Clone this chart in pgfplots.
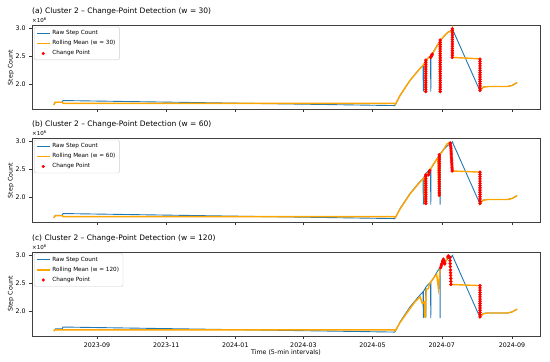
\documentclass[border=0pt]{standalone}
\usepackage{fontspec}
\setmainfont{DejaVu Sans}
\usepackage{pgfplots}
\usepackage{pgfplotstable}
\pgfplotsset{compat=1.18}
\definecolor{rawblue}{HTML}{1F77B4}
\definecolor{rmorange}{HTML}{FFA500}

\pgfplotstableread{
d v
-38 1.64
-36.5 1.68
-30.5 1.68
-30 1.71
262.5 1.62
263 1.63
267.2 1.80
276 2.07
283.4 2.25
287.5 2.34
287.7 1.87
287.9 2.35
289.7 2.41
289.9 1.87
290.1 2.43
294.1 2.51
294.3 1.87
294.5 2.52
296 2.56
300 2.70
302.3 2.77
302.5 1.87
302.7 2.78
306 2.86
309.5 2.93
312.5 2.96
313.3 2.99
337.7 1.88
340.5 1.95
343 1.96
362 1.96
366 1.98
370.4 2.03
}\rawdata

\pgfplotstableread{
d v
-38 1.63
-37 1.68
-30.5 1.68
-30 1.66
262 1.66
263 1.64
267.2 1.80
276 2.07
283.4 2.25
287.5 2.34
289.4 2.40
289.6 1.87
290.2 1.87
290.4 2.44
292 2.47
294 2.50
296 2.55
300 2.69
302.2 2.76
302.4 1.87
302.8 1.87
303 2.79
306 2.86
309.5 2.93
312.5 2.95
313.2 2.99
313.5 2.48
337.5 2.455
337.8 1.89
339 1.92
341 1.95
345 1.96
362 1.96
366 1.98
370.4 2.03
}\rmA

\pgfplotstableread{
d v
-38 1.63
-37 1.67
-30.5 1.67
-30 1.655
262 1.655
263 1.64
267.2 1.79
276 2.06
283.4 2.24
287.3 2.33
288.5 2.35
288.8 1.885
289.6 1.885
289.9 2.40
291 2.42
292.3 2.40
293.3 2.48
296.6 2.59
299.5 2.68
300.5 2.70
301.3 2.04
301.9 2.06
302.4 2.77
304 2.80
308.4 2.95
311.3 2.98
312.0 2.90
313.2 2.47
337.5 2.45
337.8 1.885
339 1.92
341 1.95
345 1.96
362 1.96
366 1.98
370.4 2.03
}\rmB

\pgfplotstableread{
d v
-38 1.64
-37 1.66
262 1.66
263 1.645
267.2 1.79
276 2.04
280.4 2.16
284.9 2.25
286.9 2.13
288.7 2.16
289.0 1.89
289.5 1.89
290.2 2.38
292.2 2.40
293.7 2.50
298.1 2.62
299.5 2.65
301 2.40
302.5 2.74
303.9 2.83
305.4 2.92
306.8 2.83
308.3 2.92
309.8 2.98
311.2 2.95
312.1 2.47
337.5 2.45
337.8 1.89
339 1.92
341 1.95
345 1.96
362 1.96
366 1.98
370.4 2.03
}\rmC

\pgfplotstableread{
d v
289.9 1.87
289.9 1.91
289.9 1.95
289.9 1.99
289.9 2.03
289.9 2.07
289.9 2.11
289.9 2.15
289.9 2.19
289.9 2.23
289.9 2.27
289.9 2.31
289.9 2.35
289.9 2.39
289.9 2.43
294.2 2.48
294.7 2.50
295.2 2.52
295.6 2.54
302.6 1.87
302.6 1.91
302.6 1.95
302.6 1.99
302.6 2.03
302.6 2.07
302.6 2.11
302.6 2.15
302.6 2.19
302.6 2.23
302.6 2.27
302.6 2.31
302.6 2.35
302.6 2.39
302.6 2.43
302.6 2.47
302.6 2.51
302.6 2.55
302.6 2.59
302.6 2.63
302.6 2.67
302.6 2.71
302.6 2.75
302.6 2.79
313.3 2.48
313.3 2.52
313.3 2.56
313.3 2.60
313.3 2.64
313.3 2.68
313.3 2.72
313.3 2.76
313.3 2.80
313.3 2.84
313.3 2.88
313.3 2.92
313.3 2.96
313.3 2.99
337.7 1.89
337.7 1.93
337.7 1.97
337.7 2.01
337.7 2.05
337.7 2.09
337.7 2.13
337.7 2.17
337.7 2.21
337.7 2.25
337.7 2.29
337.7 2.33
337.7 2.37
337.7 2.41
337.7 2.45
}\cpA

\pgfplotstableread{
d v
289.9 1.89
289.9 1.93
289.9 1.97
289.9 2.01
289.9 2.05
289.9 2.09
289.9 2.13
289.9 2.17
289.9 2.21
289.9 2.25
289.9 2.29
289.9 2.33
289.9 2.37
289.9 2.40
292.3 2.40
292.8 2.44
293.3 2.48
301.8 2.04
301.8 2.08
301.8 2.12
301.8 2.16
301.8 2.20
301.8 2.24
301.8 2.28
301.8 2.32
301.8 2.36
301.8 2.40
301.8 2.44
301.8 2.48
301.8 2.52
301.8 2.56
301.8 2.60
301.8 2.64
301.8 2.68
301.8 2.72
301.8 2.76
311.3 2.97
311.7 2.93
312.0 2.90
312.1 2.864
312.2 2.828
312.3 2.79
312.4 2.757
312.5 2.72
312.6 2.685
312.7 2.65
312.8 2.613
312.9 2.578
313.0 2.54
313.1 2.506
313.2 2.47
337.7 1.89
337.7 1.93
337.7 1.97
337.7 2.01
337.7 2.05
337.7 2.09
337.7 2.13
337.7 2.17
337.7 2.21
337.7 2.25
337.7 2.29
337.7 2.33
337.7 2.37
337.7 2.41
337.7 2.45
}\cpB

\pgfplotstableread{
d v
303.0 2.77
303.5 2.80
303.9 2.83
304.3 2.85
304.7 2.88
305.1 2.90
305.4 2.92
305.8 2.90
306.2 2.87
306.6 2.84
309.4 2.96
309.8 2.98
310.3 2.97
310.8 2.96
311.2 2.95
311.3 2.897
311.4 2.843
311.5 2.79
311.6 2.73
311.7 2.68
311.8 2.63
311.9 2.577
312.0 2.523
312.1 2.47
337.7 1.89
337.7 1.93
337.7 1.97
337.7 2.01
337.7 2.05
337.7 2.09
337.7 2.13
337.7 2.17
337.7 2.21
337.7 2.25
337.7 2.29
337.7 2.33
337.7 2.37
337.7 2.41
337.7 2.45
}\cpC

\pgfplotsset{
  cpstyle/.style={
    scale only axis, width=508pt, height=84pt,
    xmin=-57.3, xmax=390.6, ymin=1.55, ymax=3.05,
    xtick={0,61,122,182,243,304,366},
    ytick={2.0,2.5,3.0},
    yticklabels={2.0,2.5,3.0},
    tick pos=left, tick align=outside, major tick length=2.8pt,
    tick style={black!80, line width=0.5pt},
    axis line style={black!75, line width=0.6pt},
    ticklabel style={font=\fontsize{6.3}{7.5}\selectfont},
    /pgf/number format/assume math mode=true,
    clip=false,
    legend cell align=left,
    legend style={at={(0.004,0.985)}, anchor=north west, draw=black!20,
      rounded corners=1.5pt, font=\fontsize{5.7}{6.8}\selectfont,
      inner xsep=2pt, inner ysep=1.5pt, row sep=0.3pt,
      fill=white},
  },
  rawst/.style={rawblue, line width=0.9pt,
    legend image code/.code={\draw[rawblue, line width=1pt] (0pt,0pt) -- (12.5pt,0pt);}},
  rmst/.style={rmorange, line width=1.4pt,
    legend image code/.code={\draw[rmorange, line width=1.6pt] (0pt,0pt) -- (12.5pt,0pt);}},
  cpst/.style={only marks, mark=*, mark size=1.5pt, color=red,
    mark options={draw=none, fill=red},
    legend image code/.code={\fill[red] (6.25pt,0pt) circle (1.4pt);}},
}

\newcommand{\paneldecor}[1]{%
  \node[anchor=base west, inner sep=0pt, font=\fontsize{7.5}{9}\selectfont] at ([yshift=11.5pt]rel axis cs:0,1) {#1};
  \node[anchor=base west, inner sep=0pt, font=\fontsize{5.5}{6.5}\selectfont] at ([yshift=2.8pt]rel axis cs:0,1) {×10\textsuperscript{6}};
  \node[rotate=90, anchor=center, inner sep=0pt, font=\fontsize{6.3}{7.5}\selectfont] at ([xshift=-21pt]rel axis cs:0,0.5) {Step Count};
}

\begin{document}
\begin{tikzpicture}[x=1pt,y=1pt]
\useasboundingbox (0,0) rectangle (550,362);

\begin{axis}[cpstyle, at={(32pt,252.5pt)}, anchor=south west, xticklabels={}]
\addplot[rawst] table[x=d,y=v] {\rawdata};
\addlegendentry{Raw Step Count}
\addplot[rmst] table[x=d,y=v] {\rmA};
\addlegendentry{Rolling Mean (w = 30)}
\addplot[cpst] table[x=d,y=v] {\cpA};
\addlegendentry{Change Point}
\paneldecor{(a) Cluster 2 – Change-Point Detection (w = 30)}
\end{axis}

\begin{axis}[cpstyle, at={(32pt,139.5pt)}, anchor=south west, xticklabels={}]
\addplot[rawst] table[x=d,y=v] {\rawdata};
\addlegendentry{Raw Step Count}
\addplot[rmst] table[x=d,y=v] {\rmB};
\addlegendentry{Rolling Mean (w = 60)}
\addplot[cpst] table[x=d,y=v] {\cpB};
\addlegendentry{Change Point}
\paneldecor{(b) Cluster 2 – Change-Point Detection (w = 60)}
\end{axis}

\begin{axis}[cpstyle, at={(32pt,26pt)}, anchor=south west,
  xticklabels={2023-09,2023-11,2024-01,2024-03,2024-05,2024-07,2024-09}]
\addplot[rawst] table[x=d,y=v] {\rawdata};
\addlegendentry{Raw Step Count}
\addplot[rmst] table[x=d,y=v] {\rmC};
\addlegendentry{Rolling Mean (w = 120)}
\addplot[cpst] table[x=d,y=v] {\cpC};
\addlegendentry{Change Point}
\paneldecor{(c) Cluster 2 – Change-Point Detection (w = 120)}
\node[anchor=base, inner sep=0pt, font=\fontsize{6.3}{7.5}\selectfont] at ([yshift=-18.5pt]rel axis cs:0.5,0) {Time (5-min intervals)};
\end{axis}
\end{tikzpicture}
\end{document}
